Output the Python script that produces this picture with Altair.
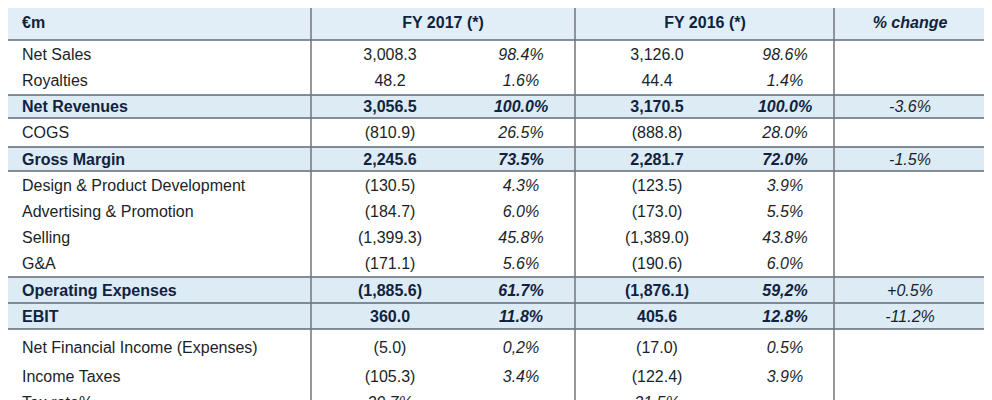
import altair as alt
import pandas as pd

# ---------------- data ----------------
labels = ["Net Sales", "Royalties", "Net Revenues", "COGS", "Gross Margin",
          "Design & Product Development", "Advertising & Promotion", "Selling", "G&A",
          "Operating Expenses", "EBIT", "Net Financial Income (Expenses)",
          "Income Taxes", "Tax rate%"]
fy2017_values = ["3,008.3", "48.2", "3,056.5", "(810.9)", "2,245.6", "(130.5)", "(184.7)",
                 "(1,399.3)", "(171.1)", "(1,885.6)", "360.0", "(5.0)", "(105.3)", "29.7%"]
fy2017_share = ["98.4%", "1.6%", "100.0%", "26.5%", "73.5%", "4.3%", "6.0%", "45.8%",
                "5.6%", "61.7%", "11.8%", "0,2%", "3.4%", ""]
fy2016_values = ["3,126.0", "44.4", "3,170.5", "(888.8)", "2,281.7", "(123.5)", "(173.0)",
                 "(1,389.0)", "(190.6)", "(1,876.1)", "405.6", "(17.0)", "(122.4)", "31.5%"]
fy2016_share = ["98.6%", "1.4%", "100.0%", "28.0%", "72.0%", "3.9%", "5.5%", "43.8%",
                "6.0%", "59,2%", "12.8%", "0.5%", "3.9%", ""]
pct_change = ["", "", "-3.6%", "", "-1.5%", "", "", "", "", "+0.5%", "-11.2%", "", "", ""]
subtotal_rows = ["Net Revenues", "Gross Margin", "Operating Expenses", "EBIT"]
header_labels = ["€m", "FY 2017 (*)", "FY 2016 (*)", "% change"]

# ---------------- layout (page pixel coordinates) ----------------
W, H = 976, 392
row_y = [54, 80, 106, 132, 159, 185, 211, 237, 263, 290, 316, 347, 376, 402]
col_x = {"label": 22, "v17": 390, "p17": 521, "v16": 657, "p16": 785, "chg": 910}
header_x = [22, 443, 705, 910]
header_y = 22
header_band = (4, 40)
subtotal_bands = {"Net Revenues": (95, 118), "Gross Margin": (147, 171),
                  "Operating Expenses": (277, 303), "EBIT": (303, 329)}
h_lines = [4, 40, 95, 118, 147, 171, 277, 303, 329]
v_lines = [311, 575, 834]
table_left, table_right = 4, 986

TEXT = "#1a1f28"
BOLD = "#0f2340"
BAND = "#ddebf5"
HEAD = "#e1eef7"
LINE = "#5d6a78"
VLINE = "#707478"
FONT = "Liberation Sans"
FS = 16

xs = alt.Scale(domain=[8, 8 + W])
ys = alt.Scale(domain=[8 + H, 8])

# cells
cells = []
for i, lab in enumerate(labels):
    sub = lab in subtotal_rows
    y = row_y[i]
    cells.append(dict(t=lab, x=col_x["label"], y=y, kind="label", sub=sub))
    for key, arr, kind in [("v17", fy2017_values, "value"), ("p17", fy2017_share, "share"),
                           ("v16", fy2016_values, "value"), ("p16", fy2016_share, "share"),
                           ("chg", pct_change, "change")]:
        if arr[i]:
            k = kind
            if lab == "Tax rate%":
                k = "share"
            cells.append(dict(t=arr[i], x=col_x[key], y=y, kind=k, sub=sub))
df = pd.DataFrame(cells)

bands = pd.DataFrame(
    [dict(x=table_left, x2=table_right, y=header_band[0], y2=header_band[1], c=HEAD)] +
    [dict(x=table_left, x2=table_right, y=subtotal_bands[s][0], y2=subtotal_bands[s][1], c=BAND)
     for s in subtotal_rows])
hl = pd.DataFrame(dict(y=h_lines, x=table_left, x2=table_right))
vl = pd.DataFrame(dict(x=v_lines, y=4, y2=8 + H))
hdr = pd.DataFrame(dict(t=header_labels, x=header_x, y=header_y,
                        italic=[False, False, False, True]))

band_layer = alt.Chart(bands).mark_rect().encode(
    x=alt.X("x:Q", scale=xs, axis=None), x2="x2:Q",
    y=alt.Y("y:Q", scale=ys, axis=None), y2="y2:Q",
    color=alt.Color("c:N", scale=None))
hl_layer = alt.Chart(hl).mark_rule(color=LINE, strokeWidth=1.5).encode(
    x=alt.X("x:Q", scale=xs), x2="x2:Q", y=alt.Y("y:Q", scale=ys))
vl_layer = alt.Chart(vl).mark_rule(color=VLINE, strokeWidth=1.5).encode(
    x=alt.X("x:Q", scale=xs), y=alt.Y("y:Q", scale=ys), y2="y2:Q")


def txt(data, align="center", weight="normal", style="normal", color=TEXT):
    return alt.Chart(data).mark_text(
        align=align, baseline="middle", font=FONT, fontSize=FS, dy=1,
        fontWeight=weight, fontStyle=style, color=color).encode(
        x=alt.X("x:Q", scale=xs), y=alt.Y("y:Q", scale=ys), text="t:N")


layers = [
    band_layer, hl_layer, vl_layer,
    txt(hdr[(~hdr.italic) & (hdr.t != "€m")], weight="bold", color=BOLD),
    txt(hdr[hdr.t == "€m"], align="left", weight="bold", color=BOLD),
    txt(hdr[hdr.italic], weight="bold", style="italic", color=BOLD),
    txt(df[(df.kind == "label") & (~df["sub"])], align="left"),
    txt(df[(df.kind == "label") & (df["sub"])], align="left", weight="bold", color=BOLD),
    txt(df[(df.kind == "value") & (~df["sub"])]),
    txt(df[(df.kind == "value") & (df["sub"])], weight="bold", color=BOLD),
    txt(df[(df.kind == "share") & (~df["sub"])], style="italic"),
    txt(df[(df.kind == "share") & (df["sub"])], weight="bold", style="italic", color=BOLD),
    txt(df[df.kind == "change"], style="italic"),
]

chart = alt.layer(*layers).properties(
    width=W, height=H, padding=0, autosize=alt.AutoSizeParams(type="none"),
    background="white"
).configure_view(stroke=None)

chart.save("out.html", embed_options={"renderer": "svg", "actions": False})
